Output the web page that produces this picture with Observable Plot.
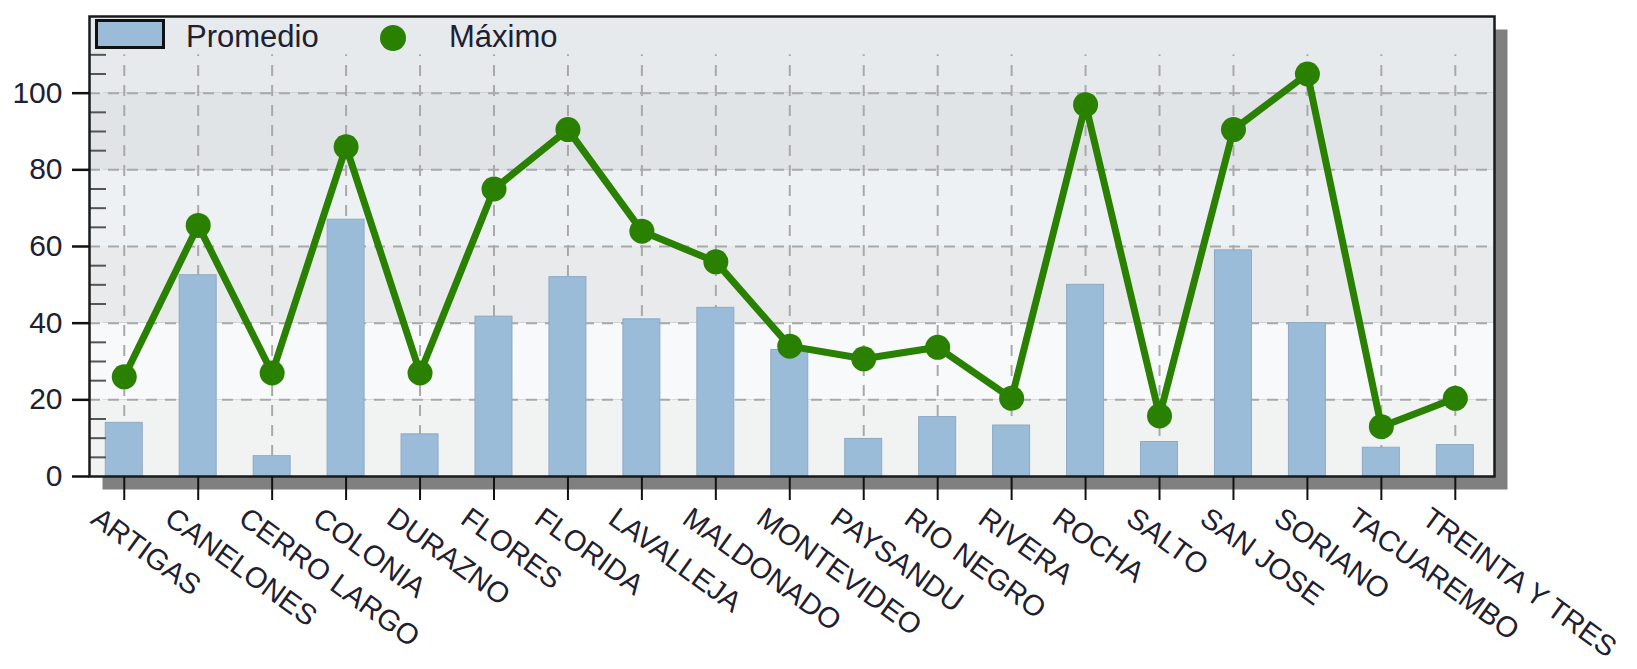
<!DOCTYPE html>
<html>
<head>
<meta charset="utf-8">
<script src="https://cdn.jsdelivr.net/npm/d3@7"></script>
<script src="https://cdn.jsdelivr.net/npm/@observablehq/plot@0.6"></script>
<style>
  html, body { margin: 0; padding: 0; background: #fff; }
  #wrap { position: relative; width: 1637px; height: 669px; overflow: hidden;
          font-family: "Liberation Sans", Arial, sans-serif; }
  #chart svg { display: block; }
  .lg { position: absolute; }
  .lg-text { font-size: 31px; line-height: 31px; color: #202030; white-space: nowrap; }
</style>
</head>
<body>
<div id="wrap">
  <div id="chart"></div>
  <div id="legend"></div>
</div>
<script>
// ---- data ----
const departamentos = ["ARTIGAS","CANELONES","CERRO LARGO","COLONIA","DURAZNO","FLORES","FLORIDA","LAVALLEJA","MALDONADO","MONTEVIDEO","PAYSANDU","RIO NEGRO","RIVERA","ROCHA","SALTO","SAN JOSE","SORIANO","TACUAREMBO","TREINTA Y TRES"];
const promedio = [14, 52.5, 5.3, 67, 11, 41.7, 52, 41, 44, 33, 9.8, 15.5, 13.3, 50, 9, 59, 40, 7.5, 8.2];
const maximo   = [26, 65.5, 27, 86, 27, 75, 90.5, 64, 56, 34, 30.7, 33.7, 20.4, 97, 15.8, 90.5, 105, 13, 20.4];
const yTicks = [0, 20, 40, 60, 80, 100];
const yMinorTicks = [5, 10, 15, 25, 30, 35, 45, 50, 55, 65, 70, 75, 85, 90, 95, 105, 110];
const bandEdges = [0, 20, 40, 60, 80, 100, 120];
const bandColors = ["#f1f2f2", "#f8f9fb", "#e8eaec", "#eef1f3", "#e1e4e7", "#e6eaed"];
const legendLabels = ["Promedio", "Máximo"];

// ---- layout ----
const W = 1637, H = 669;
const mL = 89, mR = 143, mT = 16, mB = 193;
const frameW = W - mL - mR;
const barColor = "#9bbcd9";
const lineColor = "#2a8000";

const data = departamentos.map((d, i) => ({dep: d, prom: promedio[i], max: maximo[i]}));
const bands = bandColors.map((c, i) => ({lo: bandEdges[i], hi: bandEdges[i + 1], color: c}));

const chart = Plot.plot({
  width: W, height: H,
  marginLeft: mL, marginRight: mR, marginTop: mT, marginBottom: mB,
  style: {fontFamily: "Liberation Sans, Arial, sans-serif", background: "transparent", color: "#111"},
  x: {domain: departamentos, round: false, paddingInner: 0.5, paddingOuter: 0.25, align: 0.44, axis: null},
  y: {domain: [0, 120], axis: null},
  color: {type: "identity"},
  marks: [
    Plot.frame({fill: "#808080", stroke: "none", dx: 13, dy: 13}),
    Plot.rect(bands, {y1: "lo", y2: "hi", fill: "color"}),
    Plot.ruleY(yTicks.slice(1), {y: d => d, stroke: "#a9a9a9", strokeWidth: 2, strokeDasharray: "11,8"}),
    Plot.ruleX(departamentos, {x: d => d, y1: 0, y2: 110, stroke: "#a9a9a9", strokeWidth: 2, strokeDasharray: "11,9"}),
    Plot.barY(data, {x: "dep", y: "prom", fill: barColor, stroke: "#8ea9c3", strokeWidth: 1}),
    Plot.line(data, {x: "dep", y: "max", stroke: lineColor, strokeWidth: 7, strokeLinejoin: "round"}),
    Plot.dot(data, {x: "dep", y: "max", r: 12.5, fill: lineColor, stroke: "none"}),
    Plot.tickY(yMinorTicks, {y: d => d, insetRight: frameW - 17, stroke: "#555", strokeWidth: 2}),
    Plot.frame({stroke: "#1a1a1a", strokeWidth: 2.5}),
    Plot.axisY({ticks: yTicks, tickSize: 17, tickPadding: 10, fontSize: 30, stroke: "#111", strokeWidth: 2.5, fill: "#202030", label: null}),
    Plot.axisX({tickSize: 24, tickFormat: () => "", stroke: "#111", strokeWidth: 2, label: null}),
    Plot.text(departamentos, {x: d => d, text: d => d, frameAnchor: "bottom", rotate: 36,
      textAnchor: "start", lineAnchor: "top", dx: -23, dy: 29, fontSize: 29, fill: "#202030"})
  ]
});
document.getElementById("chart").appendChild(chart);

// ---- legend (inside the plot frame, top-left) ----
const lg = document.getElementById("legend");
const sw = document.createElement("div");
sw.className = "lg";
Object.assign(sw.style, {left: "95px", top: "19px", width: "64px", height: "24px", background: barColor, border: "3px solid #111"});
lg.appendChild(sw);
const t1 = document.createElement("div");
t1.className = "lg lg-text"; t1.textContent = legendLabels[0];
Object.assign(t1.style, {left: "186px", top: "21px"});
lg.appendChild(t1);
const dot = document.createElement("div");
dot.className = "lg";
Object.assign(dot.style, {left: "380px", top: "25px", width: "26px", height: "26px", borderRadius: "50%", background: lineColor});
lg.appendChild(dot);
const t2 = document.createElement("div");
t2.className = "lg lg-text"; t2.textContent = legendLabels[1];
Object.assign(t2.style, {left: "449px", top: "21px"});
lg.appendChild(t2);
</script>
</body>
</html>
